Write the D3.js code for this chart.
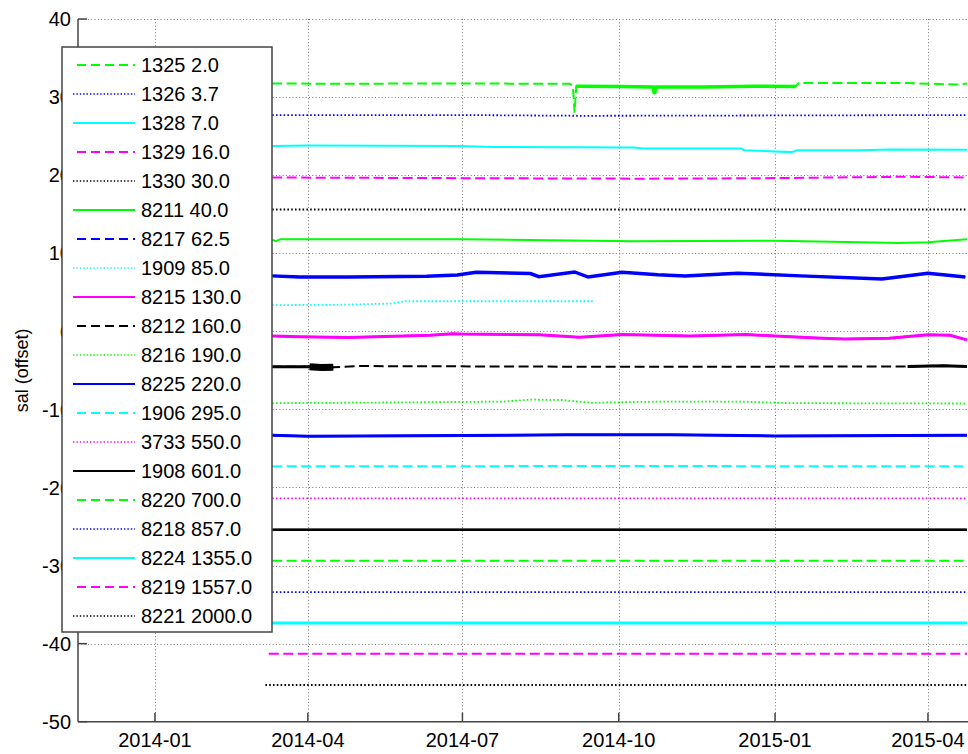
<!DOCTYPE html>
<html>
<head>
<meta charset="utf-8">
<script src="https://cdn.jsdelivr.net/npm/d3@7"></script>
<style>
  html, body { margin: 0; padding: 0; background: #fff; }
  svg { display: block; font-family: 'Liberation Sans', Helvetica, Arial, sans-serif; }
</style>
</head>
<body>
<div id="chart"></div>
<script>
// sensor ids and nominal depths, in legend order
const sensorIds = ['1325', '1326', '1328', '1329', '1330', '8211', '8217', '1909', '8215', '8212',
                   '8216', '8225', '1906', '3733', '1908', '8220', '8218', '8224', '8219', '8221'];
const depths = [2.0, 3.7, 7.0, 16.0, 30.0, 40.0, 62.5, 85.0, 130.0, 160.0,
                190.0, 220.0, 295.0, 550.0, 601.0, 700.0, 857.0, 1355.0, 1557.0, 2000.0];

// salinity (offset), [date, value]
const sal1325 = [['2014-03-11', 31.75], ['2014-04-20', 31.7], ['2014-06-15', 31.75], ['2014-09-02', 31.7],
  ['2014-09-04', 31.45], ['2014-09-05', 28.0], ['2014-09-06', 31.4], ['2014-10-01', 31.35], ['2014-10-21', 31.3],
  ['2014-10-22', 30.4], ['2014-10-23', 31.3], ['2014-11-20', 31.3], ['2014-12-20', 31.4], ['2015-01-13', 31.35],
  ['2015-01-15', 31.8], ['2015-03-20', 31.8], ['2015-04-18', 31.6], ['2015-04-24', 31.75]];
const sal1326 = [['2014-03-11', 27.7], ['2014-07-01', 27.7], ['2014-09-10', 27.6], ['2015-01-10', 27.65], ['2015-04-24', 27.7]];
const sal1328 = [['2014-03-11', 23.75], ['2014-04-02', 23.8], ['2014-06-28', 23.75], ['2014-07-20', 23.6],
  ['2014-10-10', 23.55], ['2014-10-15', 23.4], ['2014-12-12', 23.4], ['2014-12-14', 23.2], ['2015-01-11', 22.95],
  ['2015-01-14', 23.2], ['2015-02-20', 23.2], ['2015-03-10', 23.3], ['2015-04-24', 23.25]];
const sal1329 = [['2014-03-11', 19.7], ['2014-07-20', 19.6], ['2014-10-15', 19.55], ['2014-12-20', 19.6],
  ['2015-03-20', 19.8], ['2015-04-24', 19.7]];
const sal1330 = [['2014-03-11', 15.6], ['2014-10-01', 15.6], ['2015-04-24', 15.6]];
const sal8211 = [['2014-03-11', 11.75], ['2014-03-13', 11.55], ['2014-03-16', 11.8], ['2014-07-01', 11.8],
  ['2014-10-10', 11.55], ['2015-01-01', 11.6], ['2015-02-20', 11.4], ['2015-03-15', 11.3], ['2015-04-01', 11.4],
  ['2015-04-24', 11.8]];
const sal8217 = [['2014-03-11', 7.1], ['2014-03-27', 6.95], ['2014-04-25', 6.95], ['2014-06-10', 7.05],
  ['2014-06-28', 7.2], ['2014-07-09', 7.55], ['2014-08-10', 7.4], ['2014-08-15', 7.0], ['2014-09-05', 7.6],
  ['2014-09-13', 6.95], ['2014-10-03', 7.55], ['2014-10-24', 7.25], ['2014-11-09', 7.1], ['2014-12-10', 7.45],
  ['2015-01-16', 7.1], ['2015-03-05', 6.7], ['2015-04-01', 7.45], ['2015-04-23', 6.95]];
const sal1909 = [['2014-03-11', 3.35], ['2014-04-20', 3.4], ['2014-05-20', 3.55], ['2014-05-28', 3.85],
  ['2014-09-16', 3.85]];
const sal8215 = [['2014-03-11', -0.6], ['2014-03-27', -0.7], ['2014-04-25', -0.8], ['2014-06-12', -0.5],
  ['2014-06-25', -0.3], ['2014-06-30', -0.35], ['2014-08-15', -0.45], ['2014-09-08', -0.75], ['2014-10-03', -0.4],
  ['2014-11-12', -0.6], ['2014-12-15', -0.4], ['2015-01-01', -0.6], ['2015-01-29', -0.9], ['2015-02-11', -1.0],
  ['2015-03-09', -0.9], ['2015-04-01', -0.45], ['2015-04-14', -0.5], ['2015-04-24', -1.1]];
const sal8212 = [['2014-03-11', -4.55], ['2014-04-02', -4.55], ['2014-04-09', -4.65], ['2014-04-16', -4.6],
  ['2014-05-01', -4.45], ['2014-10-01', -4.55], ['2015-03-20', -4.5], ['2015-04-10', -4.4], ['2015-04-24', -4.5]];
const sal8216 = [['2014-03-11', -9.2], ['2014-06-01', -9.1], ['2014-07-25', -9.0], ['2014-08-10', -8.75],
  ['2014-08-28', -8.8], ['2014-09-15', -9.15], ['2014-10-25', -9.0], ['2014-12-10', -9.0], ['2015-01-10', -9.2],
  ['2015-04-24', -9.25]];
const sal8225 = [['2014-03-11', -13.3], ['2014-04-01', -13.45], ['2014-07-01', -13.35], ['2014-09-01', -13.25],
  ['2014-11-01', -13.25], ['2015-01-01', -13.4], ['2015-04-24', -13.3]];
const sal1906 = [['2014-03-11', -17.3], ['2014-10-01', -17.25], ['2015-04-24', -17.3]];
const sal3733 = [['2014-03-11', -21.4], ['2014-10-01', -21.4], ['2015-04-24', -21.4]];
const sal1908 = [['2014-03-11', -25.4], ['2014-10-01', -25.4], ['2015-04-24', -25.4]];
const sal8220 = [['2014-03-11', -29.4], ['2014-10-01', -29.4], ['2015-04-24', -29.4]];
const sal8218 = [['2014-03-11', -33.4], ['2014-10-01', -33.4], ['2015-04-24', -33.4]];
const sal8224 = [['2014-03-11', -37.35], ['2014-10-01', -37.35], ['2015-04-24', -37.35]];
const sal8219 = [['2014-03-09', -41.3], ['2014-10-01', -41.3], ['2015-04-24', -41.3]];
const sal8221 = [['2014-03-07', -45.3], ['2014-10-01', -45.3], ['2015-04-24', -45.3]];

const salSeries = [sal1325, sal1326, sal1328, sal1329, sal1330, sal8211, sal8217, sal1909, sal8215, sal8212,
                   sal8216, sal8225, sal1906, sal3733, sal1908, sal8220, sal8218, sal8224, sal8219, sal8221];

const yTicks = [40, 30, 20, 10, 0, -10, -20, -30, -40, -50];
const xTicks = ['2014-01-01', '2014-04-01', '2014-07-01', '2014-10-01', '2015-01-01', '2015-04-01'];

// matlab style cycling
const colorCycle = ['#00ff00', '#0000ff', '#00ffff', '#ff00ff', '#000000'];
const styleCycle = ['--', ':', '-'];
const dashFor = { '--': '10,4.5', ':': '1.6,2.2', '-': null };
const widthFor = { '--': 2, ':': 1.8, '-': 2 };
const legendDash = { '--': '9,5', ':': '1.4,2', '-': null };
const legendWidth = { '--': 2, ':': 1.5, '-': 2 };
// stretches where dense sampling noise makes the trace look solid and thick
const denseSpans = [
  { id: '1325', from: '2014-09-06', to: '2015-01-14', width: 3.5 },
  { id: '8217', from: '2014-03-11', to: '2015-04-24', width: 3.5 },
  { id: '8212', from: '2014-03-11', to: '2014-04-16', width: 3 },
  { id: '8212', from: '2014-04-02', to: '2014-04-16', width: 7 },
  { id: '8212', from: '2015-03-20', to: '2015-04-24', width: 3 },
  { id: '8215', from: '2014-03-11', to: '2015-04-24', width: 3 },
  { id: '8225', from: '2014-03-11', to: '2015-04-24', width: 3 },
  { id: '1908', from: '2014-03-11', to: '2015-04-24', width: 2.5 },
  { id: '8224', from: '2014-03-11', to: '2015-04-24', width: 3 }
];

const W = 968, H = 754;
const FONT = "'Liberation Sans', Helvetica, Arial, sans-serif";
const parse = d3.utcParse('%Y-%m-%d');

const svg = d3.select('#chart').append('svg').attr('width', W).attr('height', H);
svg.append('rect').attr('width', W).attr('height', H).attr('fill', '#fff');

const plot = { left: 78, top: 19, right: 968, bottom: 721.7 };

const x = d3.scaleUtc()
  .domain([new Date(Date.UTC(2013, 10, 16, 17)), new Date(Date.UTC(2015, 3, 24, 14))])
  .range([plot.left, plot.right]);
const y = d3.scaleLinear().domain([-50, 40]).range([plot.bottom, plot.top]);

// grid
const grid = svg.append('g').attr('stroke', '#777').attr('stroke-width', 1).attr('stroke-dasharray', '1,2.3');
yTicks.filter(v => v > -50).forEach(v => {
  grid.append('line').attr('x1', plot.left).attr('x2', plot.right)
    .attr('y1', Math.round(y(v)) + 0.5).attr('y2', Math.round(y(v)) + 0.5);
});
xTicks.forEach(t => {
  const xp = Math.round(x(parse(t))) + 0.5;
  grid.append('line').attr('x1', xp).attr('x2', xp).attr('y1', plot.top).attr('y2', plot.bottom);
});

// series
svg.append('clipPath').attr('id', 'clip').append('rect')
  .attr('x', plot.left).attr('y', plot.top).attr('width', plot.right - plot.left).attr('height', plot.bottom - plot.top);
const lines = svg.append('g').attr('clip-path', 'url(#clip)');
const line = d3.line().x(d => x(parse(d[0]))).y(d => y(d[1]));

salSeries.forEach((data, i) => {
  const st = styleCycle[i % 3];
  lines.append('path')
    .attr('d', line(data))
    .attr('fill', 'none')
    .attr('stroke', colorCycle[i % 5])
    .attr('stroke-width', widthFor[st])
    .attr('stroke-dasharray', dashFor[st]);
});

denseSpans.forEach(span => {
  const i = sensorIds.indexOf(span.id);
  const a = parse(span.from), b = parse(span.to);
  const inside = salSeries[i].filter(d => parse(d[0]) >= a && parse(d[0]) <= b);
  lines.append('path')
    .attr('d', line(inside))
    .attr('fill', 'none')
    .attr('stroke', colorCycle[i % 5])
    .attr('stroke-width', span.width);
});

// axes
const axes = svg.append('g').attr('stroke', '#444').attr('stroke-width', 1.5);
axes.append('line').attr('x1', plot.left).attr('x2', plot.left).attr('y1', plot.top).attr('y2', plot.bottom);
axes.append('line').attr('x1', plot.left).attr('x2', plot.right).attr('y1', plot.bottom).attr('y2', plot.bottom);
yTicks.forEach(v => {
  axes.append('line').attr('x1', plot.left).attr('x2', plot.left + 9).attr('y1', y(v)).attr('y2', y(v));
});
xTicks.forEach(t => {
  const xp = x(parse(t));
  axes.append('line').attr('x1', xp).attr('x2', xp).attr('y1', plot.bottom).attr('y2', plot.bottom - 9);
});

const labels = svg.append('g').attr('font-family', FONT).attr('font-size', 20).attr('fill', '#000');
yTicks.forEach(v => {
  labels.append('text').attr('x', 71).attr('y', y(v)).attr('dy', '0.36em')
    .attr('text-anchor', 'end').text(v);
});
const fmt = d3.utcFormat('%Y-%m');
xTicks.forEach(t => {
  labels.append('text').attr('x', x(parse(t))).attr('y', 747)
    .attr('text-anchor', 'middle').text(fmt(parse(t)));
});
labels.append('text')
  .attr('transform', `translate(28,${(plot.top + plot.bottom) / 2}) rotate(-90)`)
  .attr('text-anchor', 'middle').attr('font-size', 18).text('sal (offset)');

// legend
const leg = svg.append('g');
leg.append('rect').attr('x', 62).attr('y', 47).attr('width', 210).attr('height', 585)
  .attr('fill', '#fff').attr('stroke', '#444').attr('stroke-width', 1.5);
sensorIds.forEach((id, i) => {
  const st = styleCycle[i % 3];
  const yy = 65 + i * 29;
  leg.append('line')
    .attr('x1', st === '--' ? 77 : 73).attr('x2', 135)
    .attr('y1', yy).attr('y2', yy)
    .attr('stroke', colorCycle[i % 5])
    .attr('stroke-width', legendWidth[st])
    .attr('stroke-dasharray', legendDash[st]);
  leg.append('text').attr('x', 141).attr('y', yy).attr('dy', '0.36em')
    .attr('font-family', FONT).attr('font-size', 20).text(`${id} ${depths[i].toFixed(1)}`);
});
</script>
</body>
</html>
